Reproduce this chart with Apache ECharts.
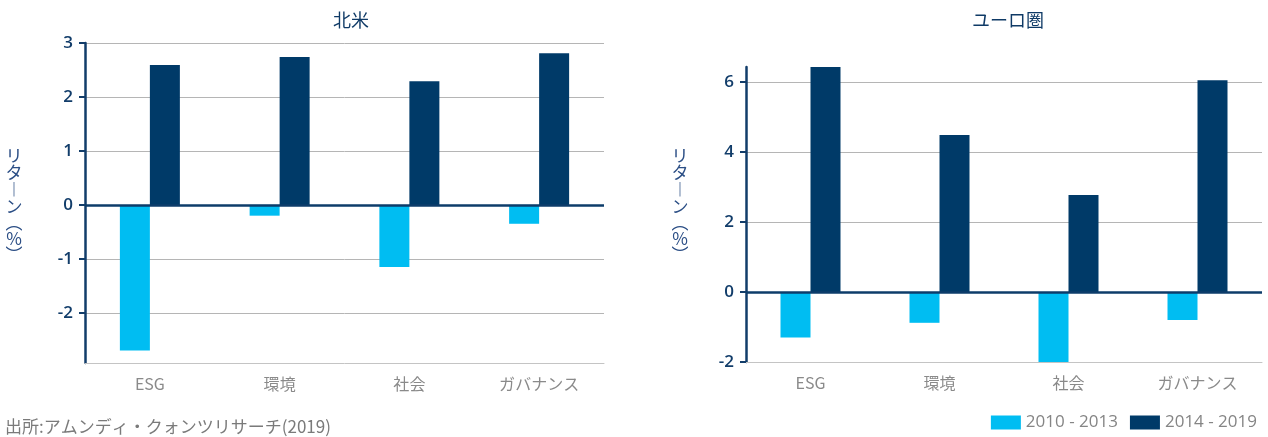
<!DOCTYPE html>
<html>
<head>
<meta charset="utf-8">
<script src="https://cdn.jsdelivr.net/npm/echarts@6/dist/echarts.min.js"></script>
<style>
    html, body { margin: 0; padding: 0; background: #fff; }
    #main { width: 1268px; height: 437px; }
</style>
</head>
<body>
<div id="main"></div>
<script>
// カテゴリ
let categories = ["ESG", "環境", "社会", "ガバナンス"];
let legendData = ["2010 - 2013", "2014 - 2019"];
// 北米
let northEarly = [-2.7, -0.2, -1.15, -0.35];
let northLate = [2.59, 2.74, 2.29, 2.81];
let northTicks = [-2, -1, 0, 1, 2, 3];
// ユーロ圏
let euroEarly = [-1.3, -0.88, -2.0, -0.8];
let euroLate = [6.43, 4.49, 2.77, 6.05];
let euroTicks = [-2, 0, 2, 4, 6];

let lightBlue = "#00bdf2";
let navy = "#003a68";
let font = "'Open Sans', 'Noto Sans CJK JP', sans-serif";
let jpFont = "'Noto Sans CJK JP', sans-serif";
// 縦書き風の軸名（括弧は縦書き用の字形）
let yName = "{k|リ}\n{k|タ}\n{k|︱}\n{k|ン}\n{p|︵}\n{k|%}\n{p|︶}";

function yAxis(idx, min, max, ticks) {
    return {
        type: "value",
        gridIndex: idx,
        min: min,
        max: max,
        axisLine: { show: true, lineStyle: { color: "#123d6a", width: 2.5 } },
        axisTick: {
            show: true,
            length: 6,
            customValues: ticks,
            lineStyle: { color: "#123d6a", width: 2 }
        },
        axisLabel: {
            color: "#123d6a",
            fontFamily: font,
            fontSize: 17,
            fontWeight: 600,
            margin: 12,
            customValues: ticks
        },
        splitLine: { show: true, lineStyle: { color: "#b5b5b5", width: 1 } }
    };
}

function xAxis(idx) {
    return {
        type: "category",
        gridIndex: idx,
        data: categories,
        axisLine: { onZero: false, lineStyle: { color: "#c4c4c4", width: 1 } },
        axisTick: { alignWithLabel: true, length: 6, lineStyle: { color: "#c4c4c4" } },
        axisLabel: { color: "#8a8a8a", fontFamily: jpFont, fontSize: 16, margin: 13 }
    };
}

function zeroLine() {
    return {
        silent: true,
        symbol: "none",
        label: { show: false },
        lineStyle: { color: "#0d3c6a", width: 2.5, type: "solid" },
        data: [{ yAxis: 0 }]
    };
}

function barSeries(name, idx, data, color, withZero) {
    let s = {
        name: name,
        type: "bar",
        xAxisIndex: idx,
        yAxisIndex: idx,
        data: data,
        barWidth: 30,
        barGap: "0%",
        itemStyle: { color: color },
        z: 2
    };
    if (withZero) s.markLine = zeroLine();
    return s;
}

function axisName(x) {
    return {
        type: "text",
        x: x,
        y: 147,
        style: {
            text: yName,
            fill: "#2b4e85",
            align: "center",
            rich: {
                k: { fontFamily: jpFont, fontSize: 17, lineHeight: 17, fill: "#2b4e85" },
                p: { fontFamily: jpFont, fontSize: 17, lineHeight: 15, fill: "#2b4e85" }
            }
        }
    };
}

let myChart = echarts.init(document.getElementById("main"));
let option = {
    animation: false,
    title: [
        {
            text: "北米",
            left: 346,
            top: 6,
            textAlign: "center",
            textStyle: { color: "#0f3a66", fontFamily: jpFont, fontSize: 18, fontWeight: "normal" }
        },
        {
            text: "ユーロ圏",
            left: 1003,
            top: 6,
            textAlign: "center",
            textStyle: { color: "#0f3a66", fontFamily: jpFont, fontSize: 18, fontWeight: "normal" }
        }
    ],
    legend: {
        data: legendData,
        right: 6,
        bottom: 1,
        itemWidth: 30,
        itemHeight: 14,
        itemGap: 12,
        icon: "rect",
        textStyle: { color: "#858585", fontFamily: font, fontSize: 17 }
    },
    grid: [
        { left: 85, right: 664, top: 43, bottom: 74 },
        { left: 746, right: 6, top: 67, bottom: 75 }
    ],
    xAxis: [xAxis(0), xAxis(1)],
    yAxis: [yAxis(0, -2.93, 3, northTicks), yAxis(1, -2, 6.43, euroTicks)],
    series: [
        barSeries(legendData[0], 0, northEarly, lightBlue, true),
        barSeries(legendData[1], 0, northLate, navy, false),
        barSeries(legendData[0], 1, euroEarly, lightBlue, true),
        barSeries(legendData[1], 1, euroLate, navy, false)
    ],
    graphic: [
        axisName(14),
        axisName(680),
        {
            type: "text",
            left: 5,
            bottom: 2,
            style: {
                text: "出所:アムンディ・クォンツリサーチ(2019)",
                fill: "#7a7a7a",
                font: "17px 'Noto Sans CJK JP', sans-serif"
            }
        }
    ]
};
myChart.setOption(option);
</script>
</body>
</html>
